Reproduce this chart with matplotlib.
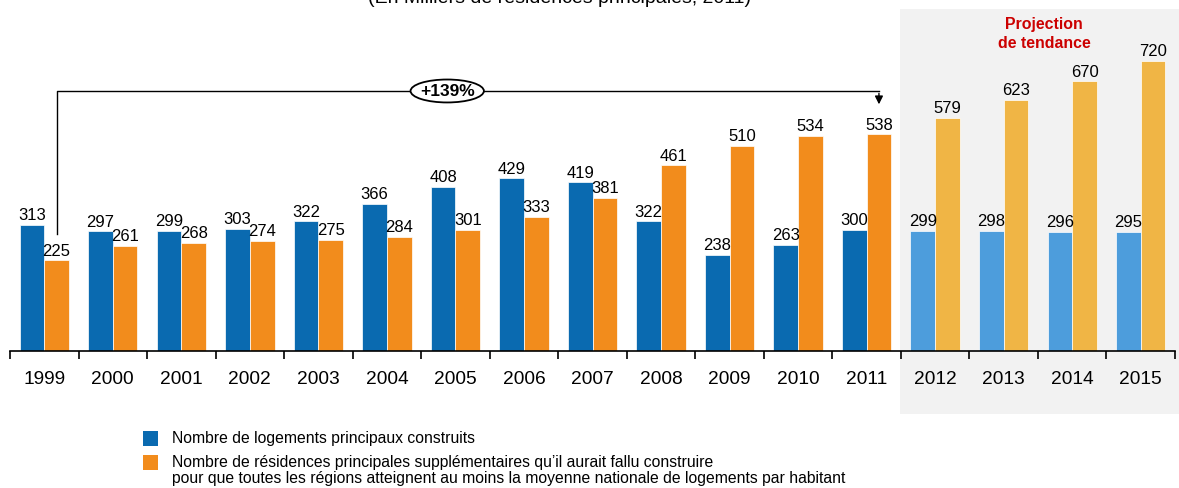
import matplotlib.pyplot as plt
from matplotlib.patches import Rectangle, Ellipse

plt.rcParams['font.family'] = ['Liberation Sans', 'DejaVu Sans']

years = ['1999', '2000', '2001', '2002', '2003', '2004', '2005', '2006', '2007',
         '2008', '2009', '2010', '2011', '2012', '2013', '2014', '2015']
built = [313, 297, 299, 303, 322, 366, 408, 429, 419, 322, 238, 263, 300,
         299, 298, 296, 295]
needed = [225, 261, 268, 274, 275, 284, 301, 333, 381, 461, 510, 534, 538,
          579, 623, 670, 720]
n_hist = 13  # 1999-2011 are observed, the rest projected

label_built = "Nombre de logements principaux construits"
label_needed = ("Nombre de résidences principales supplémentaires qu\u2019il aurait fallu construire\n"
                "pour que toutes les régions atteignent au moins la moyenne nationale de logements par habitant")

W, H = 1179, 489
fig = plt.figure(figsize=(W / 100, H / 100), dpi=100)

# projection background
fig.add_artist(Rectangle((900 / W, 1 - 415 / H), 279 / W, 405 / H,
                         transform=fig.transFigure, facecolor='#f2f2f2',
                         edgecolor='none', zorder=-1))

ax = fig.add_axes([10 / W, 1 - 352 / H, 1165 / W, 352 / H])
ax.set_facecolor('none')
ax.set_xlim(-0.5, len(years) - 0.5)
ax.set_ylim(0, 352 / 0.4025)

bw = 0.36
for i, (b, nd) in enumerate(zip(built, needed)):
    cb = '#0a6ab0' if i < n_hist else '#4d9ddc'
    co = '#f28c1c' if i < n_hist else '#f0b545'
    ax.bar(i - bw / 2, b, bw, color=cb, edgecolor='white', linewidth=0.5)
    ax.bar(i + bw / 2, nd, bw, color=co, edgecolor='white', linewidth=0.5)
    ax.text(i - bw / 2, b + 7, str(b), ha='center', va='bottom', fontsize=12)
    ax.text(i + bw / 2, nd + 7, str(nd), ha='center', va='bottom', fontsize=12)

for s in ['top', 'right', 'left']:
    ax.spines[s].set_visible(False)
ax.spines['bottom'].set_linewidth(1.2)
ax.set_yticks([])
ax.set_xticks([i - 0.5 for i in range(len(years) + 1)])
ax.set_xticklabels([])
ax.tick_params(axis='x', which='major', length=6, width=1.2, direction='out')
ax.set_xticks(range(len(years)), minor=True)
ax.set_xticklabels(years, minor=True, fontsize=13.8)
ax.tick_params(axis='x', which='minor', length=0, pad=14)

# +139% bracket
x0 = 0 + bw / 2
x1 = 12 + bw / 2
y_top = 646
ax.plot([x0, x0, x1], [291, y_top, y_top], color='black', lw=1, clip_on=False)
ax.annotate('', xy=(x1, 606), xytext=(x1, y_top + 1),
            arrowprops=dict(arrowstyle='-|>', color='black', lw=1, mutation_scale=12))
ax.add_patch(Ellipse((5.88, y_top), 1.07, 57, facecolor='white', edgecolor='black',
                     lw=1.3, zorder=5, clip_on=False))
ax.text(5.88, y_top, '+139%', ha='center', va='center', fontsize=12.5,
        fontweight='bold', zorder=6)

fig.text(1044 / W, 1 - 34 / H, 'Projection\nde tendance', ha='center', va='center',
         color='#cc0000', fontweight='bold', fontsize=11.4, linespacing=1.25)

fig.text(560 / W, 1 - 3 / H, '(En Milliers de résidences principales, 2011)',
         ha='center', va='baseline', fontsize=14)

# legend
fig.add_artist(Rectangle((143 / W, 1 - 447 / H), 15 / W, 15 / H,
                         transform=fig.transFigure, facecolor='#0a6ab0', edgecolor='none'))
fig.add_artist(Rectangle((143 / W, 1 - 471 / H), 15 / W, 15 / H,
                         transform=fig.transFigure, facecolor='#f28c1c', edgecolor='none'))
fig.text(172 / W, 1 - 439 / H, label_built, va='center', fontsize=11.3)
fig.text(172 / W, 1 - 455 / H, label_needed, va='top', fontsize=11.3, linespacing=1.12)

fig.savefig('out.png', dpi=100)
